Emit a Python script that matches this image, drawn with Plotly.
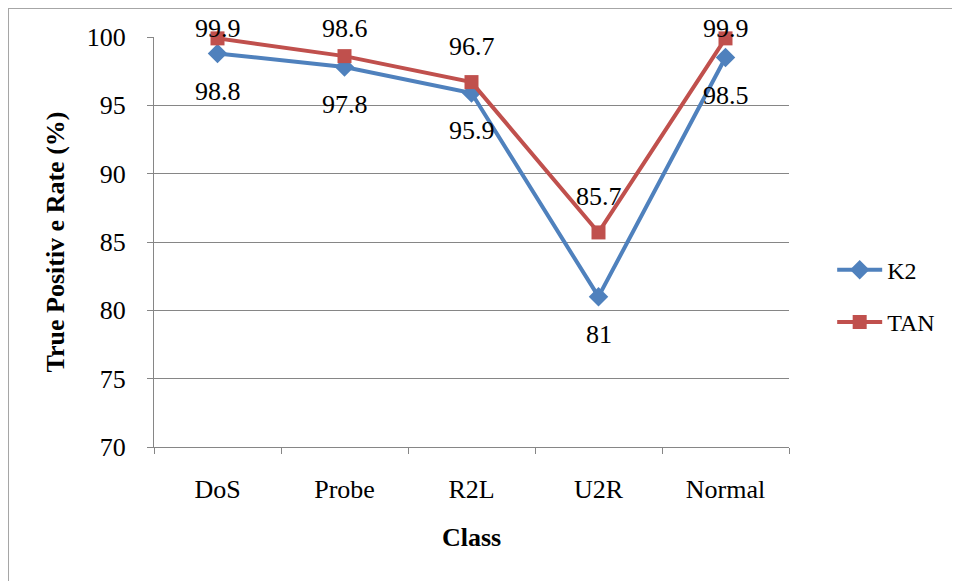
import plotly.graph_objects as go

categories = ["DoS", "Probe", "R2L", "U2R", "Normal"]
k2_values = [98.8, 97.8, 95.9, 81, 98.5]
tan_values = [99.9, 98.6, 96.7, 85.7, 99.9]
y_ticks = [70, 75, 80, 85, 90, 95, 100]

# label pixel offsets (style only)
k2_label_shift = [-38, -37, -37, -38, -38]
tan_label_shift = [10, 28, 36, 36, 10]

FONT = "Times New Roman"
BLUE = "#4F81BD"
RED = "#C0504D"
FS = 26

fig = go.Figure()
fig.add_trace(go.Scatter(
    x=categories, y=k2_values, name="K2", mode="lines+markers",
    line=dict(color=BLUE, width=4),
    marker=dict(symbol="diamond", size=15, color=BLUE),
    legendgroup="k2", cliponaxis=False,
))
fig.add_trace(go.Scatter(
    x=categories, y=tan_values, name="TAN", mode="lines+markers",
    line=dict(color=RED, width=4),
    marker=dict(symbol="square", size=14, color=RED),
    legendgroup="tan", cliponaxis=False,
))

annotations = []
for c, v, s in zip(categories, k2_values, k2_label_shift):
    annotations.append(dict(x=c, y=v, text=f"{v:g}", showarrow=False, yshift=s,
                            font=dict(family=FONT, size=FS)))
for c, v, s in zip(categories, tan_values, tan_label_shift):
    annotations.append(dict(x=c, y=v, text=f"{v:g}", showarrow=False, yshift=s,
                            font=dict(family=FONT, size=FS)))

fig.update_layout(
    width=960, height=581,
    margin=dict(l=146, r=179, t=29, b=142),
    paper_bgcolor="white", plot_bgcolor="white",
    font=dict(color="black"),
    showlegend=True,
    legend=dict(x=1.068, y=0.368, xanchor="left", yanchor="middle",
                font=dict(family=FONT, size=24),
                itemwidth=45,
                tracegroupgap=18, bgcolor="rgba(0,0,0,0)"),
    annotations=annotations,
    shapes=[dict(type="rect", xref="paper", yref="paper",
                 x0=-0.2299, x1=1.277, y0=-0.349, y1=1.0707,
                 line=dict(color="#A6A6A6", width=2), layer="below")],
)
fig.update_xaxes(
    range=[-0.5, 4.5], showgrid=False, showline=True, linecolor="#868686", linewidth=1,
    ticks="outside", tickson="boundaries", ticklen=6, tickcolor="#868686",
    tickfont=dict(family=FONT, size=FS),
    title=dict(text="<b>Class</b>", font=dict(family=FONT, size=FS), standoff=24),
    ticklabelstandoff=19,
)
fig.update_yaxes(
    range=[70, 100], tickvals=y_ticks, showgrid=True, gridcolor="#868686", gridwidth=1,
    showline=True, linecolor="#868686", linewidth=1,
    ticks="outside", ticklen=6, tickcolor="#868686",
    tickfont=dict(family=FONT, size=FS),
    title=dict(text="<b>True Positiv e Rate (%)</b>", font=dict(family=FONT, size=FS), standoff=14),
    ticklabelstandoff=16, zeroline=False,
)
fig.write_html("out.html")
